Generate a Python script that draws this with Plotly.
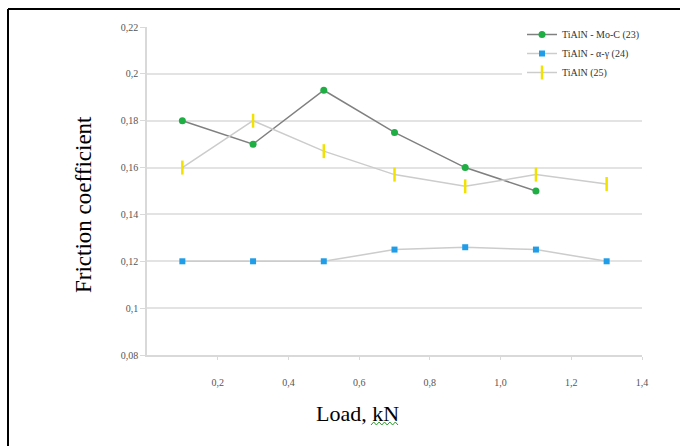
import plotly.graph_objects as go

mo_c_x = [0.1, 0.3, 0.5, 0.7, 0.9, 1.1]
mo_c = [0.180, 0.170, 0.193, 0.175, 0.160, 0.150]
ay_x = [0.1, 0.3, 0.5, 0.7, 0.9, 1.1, 1.3]
ay = [0.120, 0.120, 0.120, 0.125, 0.126, 0.125, 0.120]
tialn_x = [0.1, 0.3, 0.5, 0.7, 0.9, 1.1, 1.3]
tialn = [0.160, 0.180, 0.167, 0.157, 0.152, 0.157, 0.153]

names = ["TiAlN - Mo-C (23)", "TiAlN - α-γ (24)", "TiAlN (25)"]
ytickvals = [0.08, 0.10, 0.12, 0.14, 0.16, 0.18, 0.20, 0.22]
yticktext = ["0,08", "0,1", "0,12", "0,14", "0,16", "0,18", "0,2", "0,22"]
xtickvals = [0.2, 0.4, 0.6, 0.8, 1.0, 1.2, 1.4]
xticktext = ["0,2", "0,4", "0,6", "0,8", "1,0", "1,2", "1,4"]

W, H = 680, 446
L, R, T, B = 147, 38, 27, 91
pw, ph = W - L - R, H - T - B
def px(x): return (x - L) / pw
def py(y): return (H - B - y) / ph

fig = go.Figure()
fig.add_trace(go.Scatter(x=mo_c_x, y=mo_c, name=names[0], mode="lines+markers",
                         line=dict(color="#808080", width=1.5),
                         marker=dict(symbol="circle", size=7, color="#1fae44")))
fig.add_trace(go.Scatter(x=ay_x, y=ay, name=names[1], mode="lines+markers",
                         line=dict(color="#cccccc", width=1.5),
                         marker=dict(symbol="square", size=6, color="#1f9de8")))
fig.add_trace(go.Scatter(x=tialn_x, y=tialn, name=names[2], mode="lines+markers",
                         line=dict(color="#cccccc", width=1.5),
                         marker=dict(symbol="line-ns", size=10, color="#f2e200",
                                     line=dict(color="#f2e200", width=2.5))))

serif = "Times New Roman, Liberation Serif, serif"
shapes = [
    dict(type="line", xref="paper", yref="paper", x0=px(8), x1=px(680), y0=py(9), y1=py(9),
         line=dict(color="black", width=2)),
    dict(type="line", xref="paper", yref="paper", x0=px(8), x1=px(8), y0=py(9), y1=py(446),
         line=dict(color="black", width=2)),
]
# spell-check wavy underline under "kN"
zz = []
xs = 371
for i in range(11):
    zz.append(f"{'M' if i == 0 else 'L'}{px(xs + i * 2.7)},{py(425 if i % 2 == 0 else 422)}")
shapes.append(dict(type="path", xref="paper", yref="paper", path=" ".join(zz),
                   line=dict(color="#2a9d2a", width=1)))

fig.update_layout(
    width=W, height=H,
    margin=dict(l=L, r=R, t=T, b=B),
    paper_bgcolor="white", plot_bgcolor="white",
    showlegend=True,
    legend=dict(x=px(522), y=py(20), xanchor="left", yanchor="top",
                font=dict(family=serif, size=10, color="#333"),
                bgcolor="white", tracegroupgap=0, itemwidth=30),
    xaxis=dict(range=[0, 1.4], tickvals=xtickvals, ticktext=xticktext,
               showgrid=False, showline=True, linecolor="#d9d9d9", linewidth=1.5,
               ticks="outside", ticklen=3, tickcolor="#d9d9d9", ticklabelstandoff=14,
               tickfont=dict(family=serif, size=10, color="#555"), zeroline=False),
    yaxis=dict(range=[0.08, 0.22], tickvals=ytickvals, ticktext=yticktext,
               showgrid=True, gridcolor="#e3e3e3", gridwidth=1.5,
               showline=True, linecolor="#d9d9d9", linewidth=1.5,
               ticks="outside", ticklen=5, tickcolor="#d9d9d9",
               tickfont=dict(family=serif, size=10, color="#555"), zeroline=False),
    shapes=shapes,
    annotations=[
        dict(text="Load, kN", xref="paper", yref="paper", x=px(357), y=py(413),
             showarrow=False, font=dict(family=serif, size=22, color="black"),
             xanchor="center", yanchor="middle"),
        dict(text="Friction coefficient", xref="paper", yref="paper", x=px(83), y=py(205),
             showarrow=False, textangle=-90, font=dict(family=serif, size=23, color="black"),
             xanchor="center", yanchor="middle"),
    ],
)

fig.write_html("out.html")
